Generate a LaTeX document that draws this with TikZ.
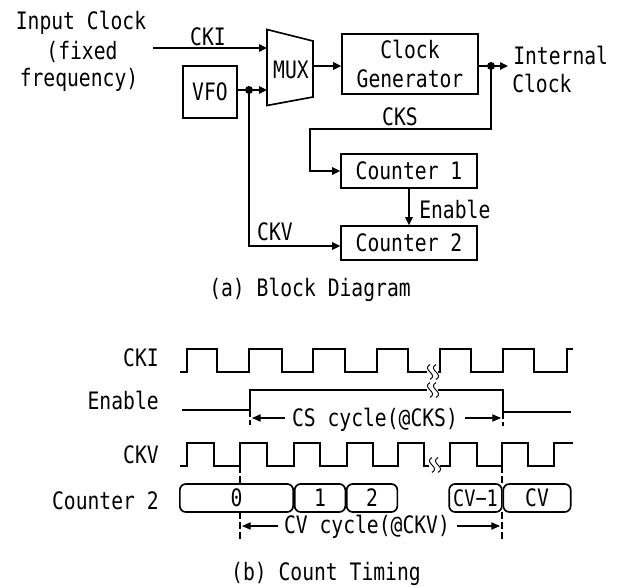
\documentclass[tikz,border=0pt]{standalone}
\usepackage{fontspec}
\setmainfont[FakeStretch=0.82]{DejaVu Sans Mono}
\usetikzlibrary{arrows.meta}
\newcommand{\lf}{\fontsize{18}{21.5}\selectfont}
\tikzset{
  x=0.75pt,y=-0.75pt,
  wire/.style={line width=1.25pt,line join=miter,-{Triangle[length=6pt,width=5.5pt]}},
  plainwire/.style={line width=1.25pt},
  wave/.style={line width=1.25pt,line join=miter},
  dashline/.style={line width=1.1pt,dash pattern=on 5pt off 2.5pt},
  span/.style={line width=0.8pt,-{Triangle[length=6.5pt,width=5.5pt]}},
  blockbox/.style={draw,line width=1.25pt,inner sep=0pt,align=center,font=\lf},
  seg/.style={draw,line width=1.25pt,rounded corners=4.5pt,inner sep=0pt,minimum height=21pt},
  lab/.style={inner sep=0pt,font=\lf,align=center},
  jdot/.style={circle,fill=black,inner sep=0pt,minimum size=6pt},
  wig/.style={line width=0.7pt}
}
\newcommand{\wigmark}[2]{%
  \fill[white] (#1-6,#2-7) rectangle (#1+5,#2+7);
  \foreach \dx in {-3,3}{
    \draw[wig] (#1+\dx,#2-7.5) .. controls (#1+\dx-9,#2-2) and (#1+\dx+9,#2+2) .. (#1+\dx,#2+7.5);
  }}
\begin{document}
\begin{tikzpicture}
\useasboundingbox (0,0) rectangle (618,588);
% block diagram
\coordinate (ckiin) at (153,48);
\coordinate (m1) at (267,29.5);
\coordinate (m2) at (313,41);
\coordinate (m3) at (313,97);
\coordinate (m4) at (267,105.5);
\draw[plainwire] (m1) -- (m2) -- (m3) -- (m4) -- cycle;
\coordinate (mi1) at (267,48);
\coordinate (mi2) at (267,90);
\coordinate (mo) at (313,66);
\node[lab] (mux) at (291,70) {MUX};
\node[blockbox,minimum width=40.5pt,minimum height=39pt] (vfo) at (210,92) {VFO};
\node[blockbox,minimum width=102pt,minimum height=45pt] (cg) at (410,64) {Clock\\Generator};
\node[blockbox,minimum width=102pt,minimum height=25.5pt] (c1) at (409,171) {Counter 1};
\node[blockbox,minimum width=102pt,minimum height=25.5pt] (c2) at (409,243) {Counter 2};
\node[jdot] (d1) at (249,90) {};
\node[jdot] (d2) at (491,66) {};
\coordinate (outend) at (508,66);
\coordinate (ck1) at (491,129);
\coordinate (ck2) at (310,129);
\coordinate (ck3) at (310,171);
\coordinate (cv1) at (249,246);
\draw[wire] (ckiin) -- (mi1);
\draw[wire] (vfo.east |- d1) -- (mi2);
\draw[wire] (mo) -- (cg.west |- mo);
\draw[wire] (cg.east |- outend) -- (outend);
\draw[wire] (d2.center) -- (ck1) -- (ck2) -- (ck3) -- (c1.west);
\draw[wire] (d1.center) -- (cv1) -- (c2.west |- cv1);
\draw[wire] (c1.south) -- (c2.north);
\node[lab] (tcki) at (208,37) {CKI};
\node[lab] (tcks) at (400,117) {CKS};
\node[lab] (tckv) at (275,232) {CKV};
\node[lab,anchor=west] (ten) at (419,209) {Enable};
\node[lab,anchor=west] (t1) at (513,55) {Internal};
\node[lab,anchor=west] (t2) at (512,83) {Clock};
\node[lab] (t3) at (81,23) {Input Clock};
\node[lab] (t4) at (82,52) {(fixed};
\node[lab] (t5) at (79,80) {frequency)};
\node[lab] (capa) at (310,290) {(a) Block Diagram};
\node[lab] (capb) at (326,574) {(b) Count Timing};
% timing labels
\node[lab,anchor=east] (lcki) at (159,358) {CKI};
\node[lab,anchor=east] (len) at (159,400) {Enable};
\node[lab,anchor=east] (lckv) at (159,455) {CKV};
\node[lab,anchor=east] (lc2) at (159,501) {Counter 2};
% waveforms
\draw[wave] (180,372) -- (187,372) -- (187,349) -- (217,349) -- (217,372) -- (249,372) -- (249,349) -- (282,349) -- (282,372) -- (313,372) -- (313,349) -- (345,349) -- (345,372) -- (377,372) -- (377,349) -- (408,349) -- (408,372) -- (440,372) -- (440,349) -- (471,349) -- (471,372) -- (503,372) -- (503,349) -- (534,349) -- (534,372) -- (567,372) -- (567,349) -- (573,349);
\draw[wave] (182,410) -- (250,410) -- (250,390) -- (503,390) -- (503,412) -- (571,412);
\draw[wave] (180,466) -- (187,466) -- (187,443) -- (214,443) -- (214,466) -- (240,466) -- (240,443) -- (267,443) -- (267,466) -- (294,466) -- (294,443) -- (320,443) -- (320,466) -- (347,466) -- (347,443) -- (373,443) -- (373,466) -- (398,466) -- (398,443) -- (424,443) -- (424,466) -- (450,466) -- (450,443) -- (477,443) -- (477,466) -- (502,466) -- (502,443) -- (528,443) -- (528,466) -- (554,466) -- (554,443) -- (573,443);
\wigmark{433}{372}
\wigmark{433}{390}
\wigmark{435}{465}
% counter segments
\node[seg,minimum width=85pt,lab] (s0) at (236.5,498) {0};
\node[seg,minimum width=38pt,lab] (s1) at (320,498) {1};
\node[seg,minimum width=38pt,lab] (s2) at (372,498) {2};
\node[seg,minimum width=39.5pt,lab] (s3) at (475.5,498) {\fontsize{17}{20}\selectfont CV−1};
\node[seg,minimum width=50.5pt,lab] (s4) at (537,498) {CV};
% dashed guides
\coordinate (a1) at (250,410); \coordinate (a2) at (250,425);
\coordinate (b1) at (503,412); \coordinate (b2) at (503,426);
\coordinate (e1) at (240,466); \coordinate (e2) at (240,484);
\coordinate (e3) at (240,512); \coordinate (e4) at (240,541);
\coordinate (f1) at (502,466); \coordinate (f2) at (502,484);
\coordinate (f3) at (502,512); \coordinate (f4) at (502,541);
\draw[dashline] (a1) -- (a2);
\draw[dashline] (b1) -- (b2);
\draw[dashline] (e1) -- (e2);
\draw[dashline] (e3) -- (e4);
\draw[dashline] (f1) -- (f2);
\draw[dashline] (f3) -- (f4);
% spans
\node[lab] (tcs) at (375,420) {CS cycle(@CKS)};
\node[lab] (tcv) at (367,527) {CV cycle(@CKV)};
\coordinate (p1) at (252,418); \coordinate (p2) at (501,418);
\coordinate (q1) at (242,526); \coordinate (q2) at (500,526);
\draw[span] (285,418) -- (p1);
\draw[span] (465,418) -- (p2);
\draw[span] (278,526) -- (q1);
\draw[span] (457,526) -- (q2);
\end{tikzpicture}
\end{document}
